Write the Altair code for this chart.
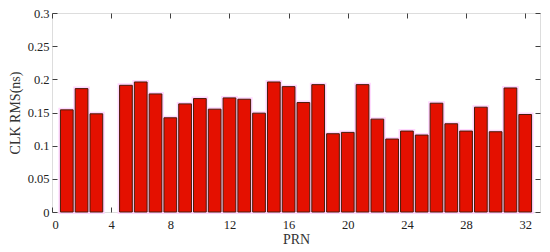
import altair as alt
import pandas as pd

prn = [1, 2, 3, 5, 6, 7, 8, 9, 10, 11, 12, 13, 14, 15, 16, 17, 18, 19, 20,
       21, 22, 23, 24, 25, 26, 27, 28, 29, 30, 31, 32]
rms = [0.154, 0.186, 0.148, 0.191, 0.196, 0.178, 0.142, 0.163, 0.171, 0.155,
       0.172, 0.170, 0.149, 0.196, 0.189, 0.165, 0.192, 0.118, 0.120, 0.192,
       0.140, 0.110, 0.122, 0.116, 0.164, 0.133, 0.122, 0.158, 0.121, 0.187,
       0.147]
x_ticks = [0, 4, 8, 12, 16, 20, 24, 28, 32]
y_ticks = [0, 0.05, 0.1, 0.15, 0.2, 0.25, 0.3]

df = pd.DataFrame({"PRN": prn, "RMS": rms})

FONT = "Liberation Serif"
AX = "#404040"

xscale = alt.Scale(domain=[0, 33], nice=False, zero=False)
yscale = alt.Scale(domain=[0, 0.3], nice=False, zero=True)

base = alt.Chart(df).transform_calculate(
    x0="datum.PRN - 0.43", x1="datum.PRN + 0.43"
)

inward = {"expr": "-5"}
lab = dict(labelFont=FONT, titleFont=FONT, labelFontSize=12.5, titleFontSize=14,
           titleFontWeight="normal", labelColor="#222222", titleColor="#333333")

halo = base.mark_bar(color="#ffd8ff", stroke="#ffd8ff", strokeWidth=4).encode(
    x=alt.X("x0:Q", scale=xscale,
            axis=alt.Axis(orient="top", values=x_ticks, labels=False, title=None,
                          domain=False, ticks=True, tickSize=inward,
                          tickColor=AX, grid=False)),
    x2="x1:Q",
    y=alt.Y("RMS:Q", scale=yscale,
            axis=alt.Axis(orient="right", values=y_ticks, labels=False, title=None,
                          domain=False, ticks=True, tickSize=inward,
                          tickColor=AX, grid=False)),
    y2=alt.datum(0),
)

bars = base.mark_bar(color="#e41000", stroke="#4a1a08", strokeWidth=1).encode(
    x=alt.X("x0:Q", scale=xscale,
            axis=alt.Axis(orient="bottom", values=x_ticks, format="d", title="PRN",
                          domain=False, ticks=True, tickSize=inward, tickColor=AX,
                          labelPadding=11, titlePadding=2, grid=False, **lab)),
    x2="x1:Q",
    y=alt.Y("RMS:Q", scale=yscale,
            axis=alt.Axis(orient="left", values=y_ticks, format=".2~f",
                          title="CLK RMS(ns)", domain=False, ticks=True,
                          tickSize=inward, tickColor=AX, labelPadding=8,
                          titlePadding=5, grid=False, **lab)),
    y2=alt.datum(0),
)

chart = alt.layer(halo, bars).properties(
    width=488, height=199,
    autosize=alt.AutoSizeParams(type="none"),
    padding={"left": 44, "top": 5, "right": 2, "bottom": 36},
).configure_view(
    stroke=AX, strokeWidth=1
).configure(font=FONT)

chart.save("out.html", embed_options={"renderer": "svg", "actions": False})
